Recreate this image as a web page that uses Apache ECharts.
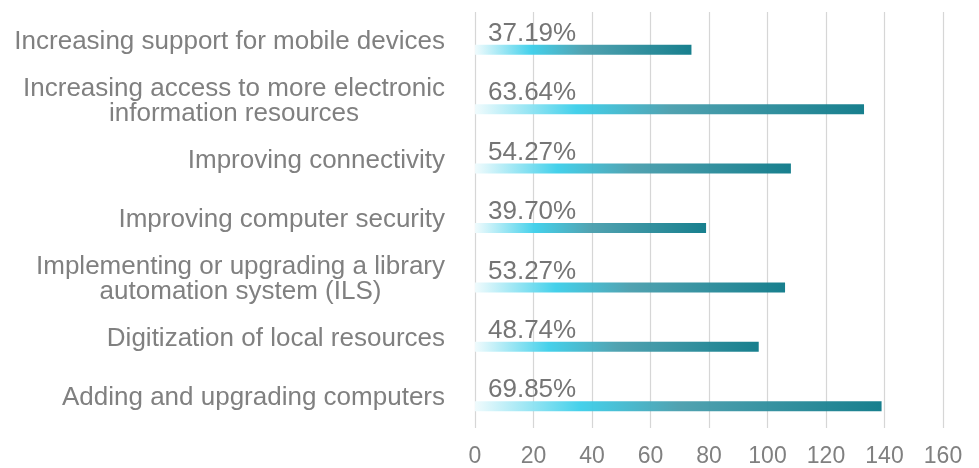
<!DOCTYPE html>
<html>
<head>
<meta charset="utf-8">
<script src="https://cdn.jsdelivr.net/npm/echarts@6/dist/echarts.min.js"></script>
<style>
html,body{margin:0;padding:0;background:#fff;}
#chart{width:979px;height:468px;}
</style>
</head>
<body>
<div id="chart"></div>
<script>
var categories = [
  "Increasing support for mobile devices",
  "Increasing access to more electronic\ninformation resources",
  "Improving connectivity",
  "Improving computer security",
  "Implementing or upgrading a library\nautomation system (ILS)",
  "Digitization of local resources",
  "Adding and upgrading computers"
];
var values = [74, 133, 108, 79, 106, 97, 139];
var percentLabels = ["37.19%", "63.64%", "54.27%", "39.70%", "53.27%", "48.74%", "69.85%"];
var xTicks = [0, 20, 40, 60, 80, 100, 120, 140, 160];

var chart = echarts.init(document.getElementById('chart'));
var grad = new echarts.graphic.LinearGradient(0, 0, 1, 0, [
  {offset: 0, color: '#f0fbfd'},
  {offset: 0.26, color: '#3dcfea'},
  {offset: 0.5, color: '#4a9fae'},
  {offset: 1, color: '#0e7a89'}
]);
var fontFam = '"Liberation Sans", Arial, sans-serif';
chart.setOption({
  animation: false,
  grid: {left: 475, right: 36, top: 12, bottom: 38, containLabel: false},
  xAxis: {
    type: 'value',
    min: xTicks[0],
    max: xTicks[xTicks.length - 1],
    interval: xTicks[1] - xTicks[0],
    axisLine: {show: false},
    axisTick: {show: false},
    splitLine: {show: true, lineStyle: {color: '#d6d6d6', width: 1.2}},
    axisLabel: {color: '#808080', fontSize: 23, fontFamily: fontFam, margin: 17}
  },
  yAxis: {
    type: 'category',
    inverse: true,
    data: categories,
    axisLine: {show: false},
    axisTick: {show: false},
    axisLabel: {
      align: 'right',
      margin: 30,
      formatter: function (v) {
        return v.split('\n').map(function (l) { return '{c|' + l + '}'; }).join('\n');
      },
      rich: {
        c: {align: 'center', fontSize: 26, color: '#808080', fontFamily: fontFam, lineHeight: 25}
      }
    }
  },
  series: [
    {
      type: 'bar',
      data: values,
      barWidth: 10,
      barGap: '60%',
      silent: true,
      itemStyle: {color: 'rgba(0,0,0,0)'}
    },
    {
      type: 'bar',
      data: values,
      barWidth: 10,
      itemStyle: {color: grad, opacity: 0.96},
      label: {
        show: true,
        position: [13, -11],
        verticalAlign: 'middle',
        align: 'left',
        fontSize: 26,
        color: '#6f6f6f',
        fontFamily: fontFam,
        formatter: function (p) { return percentLabels[p.dataIndex]; }
      }
    }
  ]
});
</script>
</body>
</html>
